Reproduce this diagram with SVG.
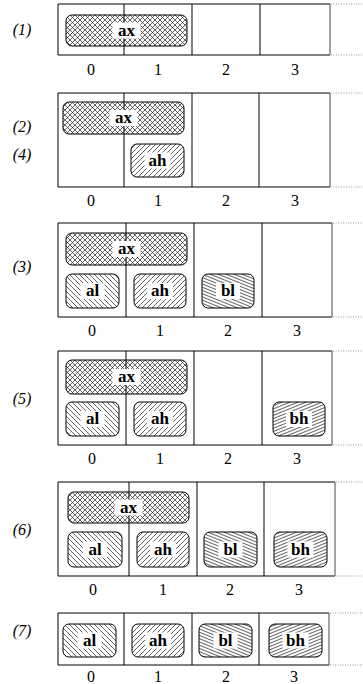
<svg xmlns="http://www.w3.org/2000/svg" width="363" height="684" viewBox="0 0 363 684">
<defs>
<pattern id="pCross" patternUnits="userSpaceOnUse" width="5" height="5">
<path d="M0,0 L5,5 M5,0 L0,5" stroke="#222" stroke-width="0.7" fill="none"/>
</pattern>
<pattern id="pBack" patternUnits="userSpaceOnUse" width="5" height="5">
<path d="M-1,-1 L6,6 M-1,4 L1,6 M4,-1 L6,1" stroke="#222" stroke-width="0.7" fill="none"/>
</pattern>
<pattern id="pFwd" patternUnits="userSpaceOnUse" width="5" height="5">
<path d="M-1,6 L6,-1 M-1,1 L1,-1 M4,6 L6,4" stroke="#222" stroke-width="0.7" fill="none"/>
</pattern>
<pattern id="pBl" patternUnits="userSpaceOnUse" width="6" height="3" patternTransform="rotate(22)">
<path d="M0,1.5 L6,1.5" stroke="#222" stroke-width="0.7" fill="none"/>
</pattern>
<pattern id="pBh" patternUnits="userSpaceOnUse" width="6" height="3" patternTransform="rotate(-22)">
<path d="M0,1.5 L6,1.5" stroke="#222" stroke-width="0.7" fill="none"/>
</pattern>
</defs>
<style>
.frame{fill:none;stroke:#000;stroke-width:1}
.div{stroke:#000;stroke-width:1}
.redge{stroke:#666;stroke-width:1.2}
.dot{stroke:#777;stroke-width:0.8;stroke-dasharray:1 1.5}
.box{stroke:#000;stroke-width:1}
.cross{fill:url(#pCross)}
.back{fill:url(#pBack)}
.fwd{fill:url(#pFwd)}
.bl{fill:url(#pBl)}
.bh{fill:url(#pBh)}
.lblbg{fill:#fff;stroke:none}
text{font-family:'Liberation Serif','Times New Roman',serif;fill:#000;text-anchor:middle}
.lbl{font-weight:bold;font-size:17px}
.num{font-size:16px}
.step{font-style:italic;font-size:16px}
</style>

<g id="connectors"></g>

<!-- Panel 1 -->
<g id="panel1">
<text class="step" x="22" y="35">(1)</text>
<path class="div" d="M124,4V55M192,4V55M260,4V55"/>
<path class="frame" d="M330,4H58V55H330"/>
<path class="redge" d="M330,4V55"/>
<path class="dot" d="M331,4H363M331,55H363"/>
<text class="num" x="91" y="75">0</text><text class="num" x="158" y="75">1</text><text class="num" x="226" y="75">2</text><text class="num" x="295" y="75">3</text>
<g id="p1-ax"><rect class="box cross" x="66" y="15" width="121" height="31" rx="6"/><rect class="lblbg" x="112.5" y="22.5" width="28" height="16"/><text class="lbl" x="126.5" y="35.5">ax</text></g>
</g>

<!-- Panel 2 -->
<g id="panel2">
<text class="step" x="22" y="132">(2)</text>
<text class="step" x="22" y="160">(4)</text>
<path class="div" d="M124,93V187M192,93V187M259,93V187"/>
<path class="frame" d="M330,93H58V187H330"/>
<path class="redge" d="M330,93V187"/>
<path class="dot" d="M331,93H363M331,187H363"/>
<text class="num" x="91" y="206">0</text><text class="num" x="158" y="206">1</text><text class="num" x="226" y="206">2</text><text class="num" x="295" y="206">3</text>
<g id="p2-ax"><rect class="box cross" x="63" y="102" width="121" height="32" rx="6"/><rect class="lblbg" x="109.5" y="110" width="28" height="16"/><text class="lbl" x="123.5" y="123">ax</text></g>
<g id="p2-ah"><rect class="box fwd" x="131" y="144" width="53" height="33" rx="6"/><rect class="lblbg" x="144.5" y="152.5" width="26" height="16"/><text class="lbl" x="157.5" y="165.5">ah</text></g>
</g>

<!-- Panel 3 -->
<g id="panel3">
<text class="step" x="22" y="272">(3)</text>
<path class="div" d="M126,223V317M194,223V317M262,223V317"/>
<path class="frame" d="M332,223H58V317H332"/>
<path class="redge" d="M332,223V317"/>
<path class="dot" d="M333,223H363M333,317H363"/>
<text class="num" x="92" y="336">0</text><text class="num" x="160" y="336">1</text><text class="num" x="228" y="336">2</text><text class="num" x="297" y="336">3</text>
<g id="p3-ax"><rect class="box cross" x="66" y="233" width="121" height="32" rx="6"/><rect class="lblbg" x="112.5" y="241" width="28" height="16"/><text class="lbl" x="126.5" y="254">ax</text></g>
<g id="p3-al"><rect class="box back" x="66" y="274" width="53" height="34" rx="6"/><rect class="lblbg" x="80.5" y="283" width="24" height="16"/><text class="lbl" x="92.5" y="296">al</text></g>
<g id="p3-ah"><rect class="box fwd" x="134" y="274" width="52" height="34" rx="6"/><rect class="lblbg" x="147" y="283" width="26" height="16"/><text class="lbl" x="160" y="296">ah</text></g>
<g id="p3-bl"><rect class="box bl" x="202" y="274" width="52" height="34" rx="6"/><rect class="lblbg" x="216" y="283" width="24" height="16"/><text class="lbl" x="228" y="296">bl</text></g>
</g>

<!-- Panel 4 -->
<g id="panel4">
<text class="step" x="22" y="404">(5)</text>
<path class="div" d="M126,351V445M194,351V445M262,351V445"/>
<path class="frame" d="M332,351H58V445H332"/>
<path class="redge" d="M332,351V445"/>
<path class="dot" d="M333,351H363M333,445H363"/>
<text class="num" x="92" y="464">0</text><text class="num" x="160" y="464">1</text><text class="num" x="228" y="464">2</text><text class="num" x="297" y="464">3</text>
<g id="p4-ax"><rect class="box cross" x="66" y="360" width="121" height="34" rx="6"/><rect class="lblbg" x="112.5" y="369" width="28" height="16"/><text class="lbl" x="126.5" y="382">ax</text></g>
<g id="p4-al"><rect class="box back" x="66" y="402" width="53" height="34" rx="6"/><rect class="lblbg" x="80.5" y="411" width="24" height="16"/><text class="lbl" x="92.5" y="424">al</text></g>
<g id="p4-ah"><rect class="box fwd" x="134" y="402" width="52" height="34" rx="6"/><rect class="lblbg" x="147" y="411" width="26" height="16"/><text class="lbl" x="160" y="424">ah</text></g>
<g id="p4-bh"><rect class="box bh" x="273" y="402" width="52" height="34" rx="6"/><rect class="lblbg" x="286" y="411" width="26" height="16"/><text class="lbl" x="299" y="424">bh</text></g>
</g>

<!-- Panel 5 -->
<g id="panel5">
<text class="step" x="22" y="535">(6)</text>
<path class="div" d="M129,482V576M197,482V576M264,482V576"/>
<path class="frame" d="M335,482H58V576H335"/>
<path class="redge" d="M335,482V576"/>
<path class="dot" d="M336,482H363M336,576H363"/>
<text class="num" x="93" y="595">0</text><text class="num" x="163" y="595">1</text><text class="num" x="230" y="595">2</text><text class="num" x="299" y="595">3</text>
<g id="p5-ax"><rect class="box cross" x="68" y="492" width="121" height="31" rx="6"/><rect class="lblbg" x="114.5" y="499.5" width="28" height="16"/><text class="lbl" x="128.5" y="512.5">ax</text></g>
<g id="p5-al"><rect class="box back" x="68" y="532" width="54" height="35" rx="6"/><rect class="lblbg" x="83" y="541.5" width="24" height="16"/><text class="lbl" x="95" y="554.5">al</text></g>
<g id="p5-ah"><rect class="box fwd" x="137" y="532" width="52" height="35" rx="6"/><rect class="lblbg" x="150" y="541.5" width="26" height="16"/><text class="lbl" x="163" y="554.5">ah</text></g>
<g id="p5-bl"><rect class="box bl" x="204" y="532" width="53" height="35" rx="6"/><rect class="lblbg" x="218.5" y="541.5" width="24" height="16"/><text class="lbl" x="230.5" y="554.5">bl</text></g>
<g id="p5-bh"><rect class="box bh" x="274" y="532" width="53" height="35" rx="6"/><rect class="lblbg" x="287.5" y="541.5" width="26" height="16"/><text class="lbl" x="300.5" y="554.5">bh</text></g>
</g>

<!-- Panel 6 -->
<g id="panel6">
<text class="step" x="22" y="636">(7)</text>
<path class="div" d="M124,613V665M192,613V665M259,613V665"/>
<path class="frame" d="M329,613H58V665H329"/>
<path class="redge" d="M329,613V665"/>
<path class="dot" d="M330,613H363M330,665H363"/>
<text class="num" x="91" y="682">0</text><text class="num" x="158" y="682">1</text><text class="num" x="226" y="682">2</text><text class="num" x="294" y="682">3</text>
<g id="p6-al"><rect class="box back" x="63" y="624" width="53" height="33" rx="6"/><rect class="lblbg" x="77.5" y="632.5" width="24" height="16"/><text class="lbl" x="89.5" y="645.5">al</text></g>
<g id="p6-ah"><rect class="box fwd" x="132" y="624" width="52" height="33" rx="6"/><rect class="lblbg" x="145" y="632.5" width="26" height="16"/><text class="lbl" x="158" y="645.5">ah</text></g>
<g id="p6-bl"><rect class="box bl" x="199" y="624" width="53" height="33" rx="6"/><rect class="lblbg" x="213.5" y="632.5" width="24" height="16"/><text class="lbl" x="225.5" y="645.5">bl</text></g>
<g id="p6-bh"><rect class="box bh" x="269" y="624" width="53" height="33" rx="6"/><rect class="lblbg" x="282.5" y="632.5" width="26" height="16"/><text class="lbl" x="295.5" y="645.5">bh</text></g>
</g>
</svg>
